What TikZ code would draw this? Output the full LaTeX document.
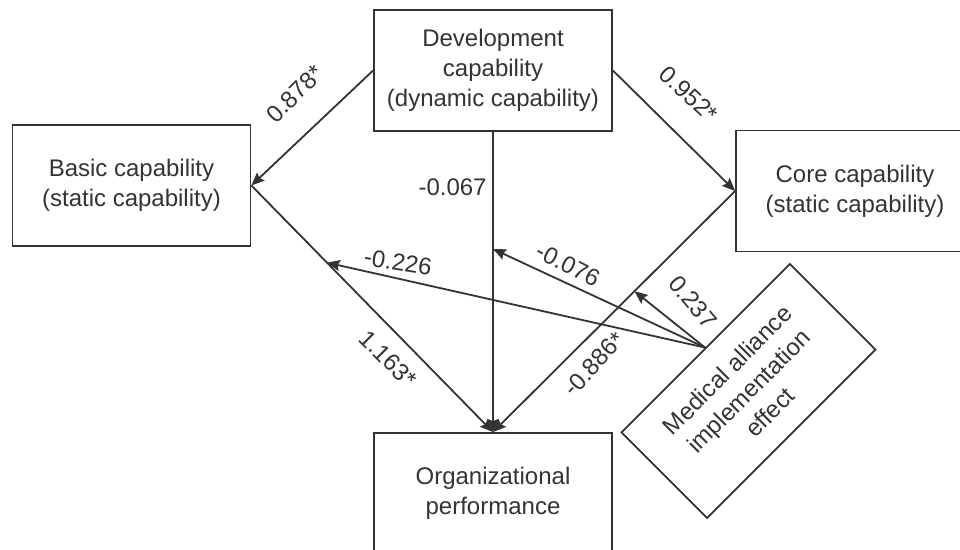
\documentclass[tikz,border=0pt]{standalone}
\usepackage{fontspec}
\setmainfont{Liberation Sans}
\usetikzlibrary{arrows.meta}
\definecolor{ink}{HTML}{333333}
\begin{document}
\begin{tikzpicture}[x=0.5pt,y=-0.5pt,
  font=\fontsize{12}{15}\selectfont, text=ink,
  box/.style={draw=ink, line width=0.9pt, minimum width=119pt, minimum height=60.5pt, align=center, inner sep=0pt},
  arr/.style={draw=ink, line width=0.9pt, -{Stealth[length=6.5pt,width=5.5pt,inset=1pt]}},
  lbl/.style={inner sep=0pt}]
\useasboundingbox (0,0) rectangle (960,550);
\node[box] (dev) at (493,70.5) {Development\\capability\\(dynamic capability)};
\node[box] (basic) at (131.5,185.5) {Basic capability\\(static capability)};
\node[box] (core) at (855,191) {Core capability\\(static capability)};
\node[box] (org) at (493,493.5) {Organizational\\performance};
\node[box, rotate=45] (med) at (748.5,391) {Medical alliance\\implementation\\effect};

\draw[arr] (dev.west) -- (basic.east);
\draw[arr] (dev.east) -- (core.west);
\draw[arr] (dev.south) -- (org.north);
\draw[arr] (basic.east) -- (org.north);
\draw[arr] (core.west) -- (org.north);

\path (basic.east) -- (org.north) coordinate[pos=0.3128] (p1);
\path (dev.south) -- (org.north) coordinate[pos=0.39] (p2);
\path (core.west) -- (org.north) coordinate[pos=0.4156] (p3);

\draw[arr] (med.north) -- (p1);
\draw[arr] (med.north) -- (p2);
\draw[arr] (med.north) -- (p3);

\node[lbl, rotate=45] (l1) at (295,94) {0.878*};
\node[lbl, rotate=-43] (l2) at (689,94) {0.952*};
\node[lbl, anchor=east] (l3) at (487,187) {-0.067};
\node[lbl, rotate=-9] (l4) at (398,262) {-0.226};
\node[lbl, rotate=-27] (l5) at (568,265) {-0.076};
\node[lbl, rotate=-50] (l6) at (693,302) {0.237};
\node[lbl, rotate=-45] (l7) at (388,359) {1.163*};
\node[lbl, rotate=47] (l8) at (594,364) {-0.886*};
\end{tikzpicture}
\end{document}
